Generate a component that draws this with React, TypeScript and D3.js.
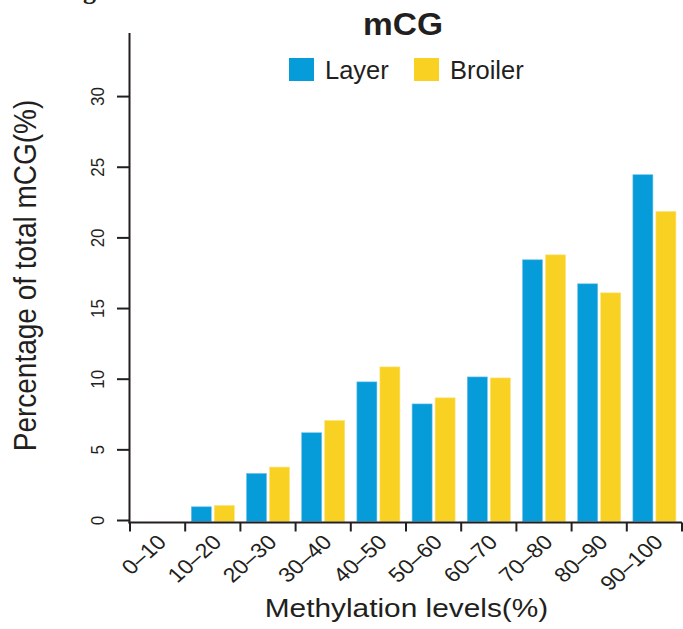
import React from "react";
import * as d3 from "d3";

// Methylation level bins and the share of total mCG falling in each
const categories = ["0–10", "10–20", "20–30", "30–40", "40–50", "50–60", "60–70", "70–80", "80–90", "90–100"];
const seriesNames = ["Layer", "Broiler"];
const layerValues = [0, 0.97, 3.33, 6.21, 9.81, 8.25, 10.16, 18.45, 16.75, 24.47];
const broilerValues = [0, 1.06, 3.78, 7.08, 10.87, 8.68, 10.09, 18.8, 16.11, 21.87];
const yTicks = [0, 5, 10, 15, 20, 25, 30];

const COLORS: Record<string, string> = { Layer: "#069bd9", Broiler: "#f8d122" };
const INK = "#231f20";
const FONT = "'Liberation Sans', Arial, Helvetica, sans-serif";

const W = 683;
const H = 629;
const plot = { left: 130, right: 682, top: 33, bottom: 520.5 };

export default function App() {
  const x = d3.scaleBand<string>().domain(categories).range([plot.left, plot.right]).padding(0);
  const inner = d3
    .scaleBand<string>()
    .domain(seriesNames)
    .range([0, x.bandwidth()])
    .paddingInner(0.13)
    .paddingOuter(0.265);
  const y = d3.scaleLinear().domain([0, 34.5]).range([plot.bottom, plot.top]);

  const rows = categories.map((c, i) => ({
    cat: c,
    values: [
      { key: "Layer", v: layerValues[i] },
      { key: "Broiler", v: broilerValues[i] },
    ],
  }));

  const axisX = 129.5;
  const axisY = 522.5;
  const xBoundaries = [...categories.map((c) => x(c) as number), plot.right];
  const sx = 1.13;

  return (
    <svg
      width={W}
      height={H}
      style={{ position: "absolute", left: 0, top: 0, background: "#fff" }}
      fontFamily={FONT}
    >
      {/* clipped panel letter from the neighbouring figure */}
      <text x={83} y={-1} fontFamily="'Liberation Serif', 'Times New Roman', serif" fontWeight="bold" fontSize={26} fill={INK}>
        g
      </text>

      {/* title */}
      <text
        transform={`translate(403,35) scale(1.08,1)`}
        textAnchor="middle"
        fontWeight="bold"
        fontSize={31}
        fill={INK}
      >
        mCG
      </text>

      {/* legend */}
      {seriesNames.map((s, i) => {
        const lx = [289, 414][i];
        return (
          <g key={s}>
            <rect x={lx} y={58} width={25} height={23} fill={COLORS[s]} />
            <text x={lx + 36} y={79} fontSize={25.5} fill={INK}>
              {s}
            </text>
          </g>
        );
      })}

      {/* bars */}
      {rows.map((r) => (
        <g key={r.cat} transform={`translate(${x(r.cat)},0)`}>
          {r.values
            .filter((d) => d.v > 0)
            .map((d) => (
              <rect
                key={d.key}
                x={inner(d.key)}
                y={y(d.v)}
                width={inner.bandwidth()}
                height={plot.bottom + 1 - y(d.v)}
                fill={COLORS[d.key]}
                stroke={d.key === "Layer" ? "#6cc2ea" : "#fbe37a"}
                strokeWidth={0.6}
              />
            ))}
        </g>
      ))}

      {/* y axis */}
      <line x1={axisX} x2={axisX} y1={plot.top} y2={axisY + 1} stroke={INK} strokeWidth={2} />
      {yTicks.map((t) => (
        <g key={t}>
          <line x1={117} x2={axisX} y1={y(t)} y2={y(t)} stroke={INK} strokeWidth={2} />
          <text
            transform={`translate(103.5,${y(t)}) scale(${sx},1) rotate(-90)`}
            textAnchor="middle"
            fontSize={17}
            fill={INK}
          >
            {t}
          </text>
        </g>
      ))}

      {/* x axis */}
      <line x1={axisX - 1} x2={plot.right} y1={axisY} y2={axisY} stroke={INK} strokeWidth={2} />
      {xBoundaries.map((b, i) => (
        <line key={i} x1={b} x2={b} y1={axisY} y2={axisY + 9} stroke={INK} strokeWidth={2} />
      ))}
      {categories.map((c) => (
        <text
          key={c}
          transform={`translate(${(x(c) as number) + x.bandwidth() / 2 + 10},${axisY + 21}) scale(${sx},1) rotate(-45)`}
          textAnchor="end"
          fontSize={20.5}
          fill={INK}
        >
          {c}
        </text>
      ))}

      {/* axis titles */}
      <text
        transform={`translate(406.5,617) scale(1.17,1)`}
        textAnchor="middle"
        fontSize={25.5}
        fill={INK}
      >
        Methylation levels(%)
      </text>
      <text
        transform={`translate(36,275.5) scale(${sx},1) rotate(-90)`}
        textAnchor="middle"
        fontSize={28}
        fill={INK}
      >
        Percentage of total mCG(%)
      </text>
    </svg>
  );
}
